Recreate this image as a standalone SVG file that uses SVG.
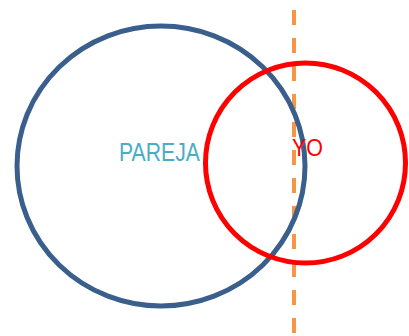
<svg xmlns="http://www.w3.org/2000/svg" width="409" height="336" viewBox="0 0 409 336">
  <style>
    .divider { stroke: #F79646; stroke-width: 4; stroke-dasharray: 15 13; fill: none; }
    .ring { fill: none; stroke-width: 5; }
    .label { font-family: "Liberation Sans", "DejaVu Sans", sans-serif; }
  </style>
  <rect width="409" height="336" fill="#FFFFFF"/>
  <g id="connectors">
    <line class="divider" x1="294" y1="10" x2="294" y2="336"/>
  </g>
  <g id="pareja">
    <ellipse class="ring" cx="161" cy="166" rx="144" ry="140" stroke="#3A5F8C"/>
  </g>
  <g id="yo">
    <circle class="ring" cx="305.5" cy="163" r="100" stroke="#FF0000"/>
  </g>
  <text class="label" x="119" y="161" font-size="25" fill="#4BACC6" textLength="81" lengthAdjust="spacingAndGlyphs">PAREJA</text>
  <text class="label" x="292" y="156" font-size="24" fill="#FF0000" textLength="31" lengthAdjust="spacingAndGlyphs">YO</text>
</svg>
